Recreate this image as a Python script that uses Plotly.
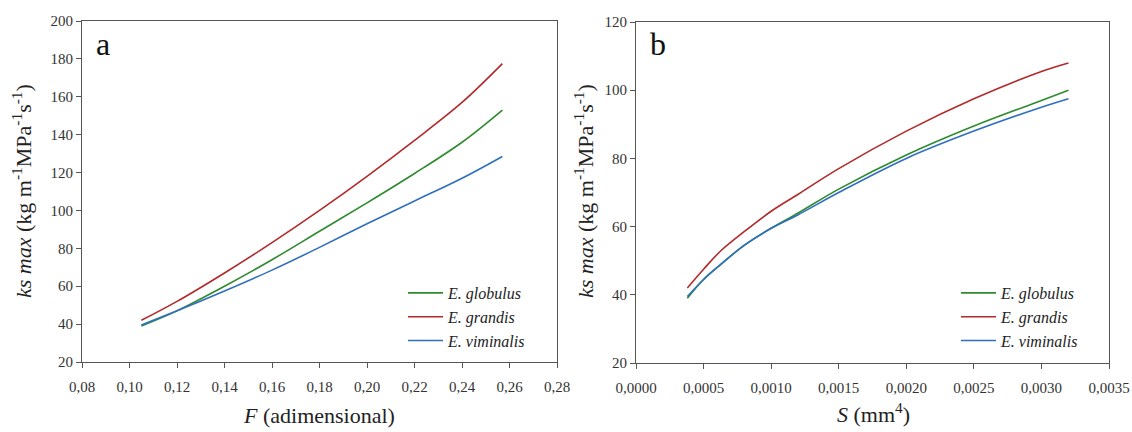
import plotly.graph_objects as go

# Panel a: F (adimensional)
F_vals = [0.105, 0.12, 0.14, 0.16, 0.18, 0.20, 0.22, 0.24, 0.257]
glob_a = [39.0, 47.0, 60.0, 74.0, 89.0, 104.0, 119.5, 136.0, 153.0]
gran_a = [42.0, 52.0, 67.0, 83.0, 100.0, 118.0, 137.0, 157.0, 177.5]
vimi_a = [39.5, 47.0, 57.5, 68.5, 80.5, 93.0, 105.0, 117.0, 128.5]

# Panel b: S (mm4)
S_vals = [0.00038, 0.0005, 0.00063, 0.0008, 0.001, 0.0012, 0.0015, 0.002, 0.0025, 0.003, 0.0032]
glob_b = [39.0, 44.5, 49.0, 54.5, 59.5, 64.0, 71.0, 81.0, 89.5, 97.0, 100.0]
gran_b = [42.0, 47.5, 53.0, 58.5, 64.5, 69.5, 77.0, 88.0, 97.5, 105.5, 108.0]
vimi_b = [39.5, 44.5, 49.0, 54.5, 59.5, 63.5, 70.0, 80.0, 88.0, 95.0, 97.5]

names = ["<i>E. globulus</i>", "<i>E. grandis</i>", "<i>E. viminalis</i>"]
colors = ["#2e8b2e", "#b22a2a", "#2f6fc0"]

fig = go.Figure()
for ys, nm, c in zip([glob_a, gran_a, vimi_a], names, colors):
    fig.add_trace(go.Scatter(x=F_vals, y=ys, mode="lines", name=nm,
                             line=dict(color=c, width=1.6, shape="spline"),
                             xaxis="x", yaxis="y", legend="legend"))
for ys, nm, c in zip([glob_b, gran_b, vimi_b], names, colors):
    fig.add_trace(go.Scatter(x=S_vals, y=ys, mode="lines", name=nm,
                             line=dict(color=c, width=1.6, shape="spline"),
                             xaxis="x2", yaxis="y2", legend="legend2"))

font = "Liberation Serif, Tinos, Times New Roman, Times, DejaVu Serif, serif"
axcommon = dict(showline=True, linecolor="#555", linewidth=1.2, mirror=True,
                ticks="outside", ticklen=5, tickcolor="#555", showgrid=False,
                zeroline=False, automargin=False,
                tickfont=dict(family=font, size=15, color="#333"))
ytitle = "<i>ks max</i> (kg m<sup>-1</sup>MPa<sup>-1</sup>s<sup>-1</sup>)"
tfont = dict(family=font, size=22, color="#222")

fig.update_layout(
    width=1132, height=432,
    margin=dict(l=0, r=0, t=0, b=0),
    paper_bgcolor="white", plot_bgcolor="white",
    separators=",.",
    font=dict(family=font, color="#222"),
    showlegend=True,
    xaxis=dict(domain=[82/1132, 557/1132], range=[0.08, 0.28], dtick=0.02, tick0=0.08,
               tickformat=".2f", anchor="y", ticklabelstandoff=6, **axcommon),
    yaxis=dict(domain=[1-362/432, 1-21/432], range=[20, 200], dtick=20, anchor="x", **axcommon),
    xaxis2=dict(domain=[636/1132, 1109/1132], range=[0, 0.0035], dtick=0.0005, tick0=0,
                tickformat=".4f", anchor="y2", ticklabelstandoff=6, **axcommon),
    yaxis2=dict(domain=[1-363/432, 1-22/432], range=[20, 120], dtick=20, anchor="x2", **axcommon),
    legend=dict(x=403/1132, y=1-276/432, xanchor="left", yanchor="top",
                bgcolor="rgba(0,0,0,0)", font=dict(family=font, size=16, color="#222"),
                itemwidth=35, tracegroupgap=0),
    legend2=dict(x=956/1132, y=1-276/432, xanchor="left", yanchor="top",
                 bgcolor="rgba(0,0,0,0)", font=dict(family=font, size=16, color="#222"),
                 itemwidth=35, tracegroupgap=0),
    annotations=[
        dict(text="a", x=94/1132, y=1-44/432, xref="paper", yref="paper", showarrow=False,
             xanchor="left", yanchor="middle", font=dict(family=font, size=32, color="#111")),
        dict(text="b", x=648/1132, y=1-44/432, xref="paper", yref="paper", showarrow=False,
             xanchor="left", yanchor="middle", font=dict(family=font, size=32, color="#111")),
        dict(text="<i>F</i> (adimensional)", x=319/1132, y=1-415/432, xref="paper", yref="paper",
             showarrow=False, xanchor="center", yanchor="middle", font=tfont),
        dict(text="<i>S</i> (mm<sup>4</sup>)", x=873/1132, y=1-413/432, xref="paper", yref="paper",
             showarrow=False, xanchor="center", yanchor="middle", font=tfont),
        dict(text=ytitle, x=22/1132, y=1-191/432, xref="paper", yref="paper", textangle=-90,
             showarrow=False, xanchor="center", yanchor="middle", font=tfont),
        dict(text=ytitle, x=584/1132, y=1-191/432, xref="paper", yref="paper", textangle=-90,
             showarrow=False, xanchor="center", yanchor="middle", font=tfont),
    ],
)

fig.write_html("out.html", config={"displayModeBar": False},
               post_script="document.body.style.margin='0';document.body.style.overflow='hidden';")
